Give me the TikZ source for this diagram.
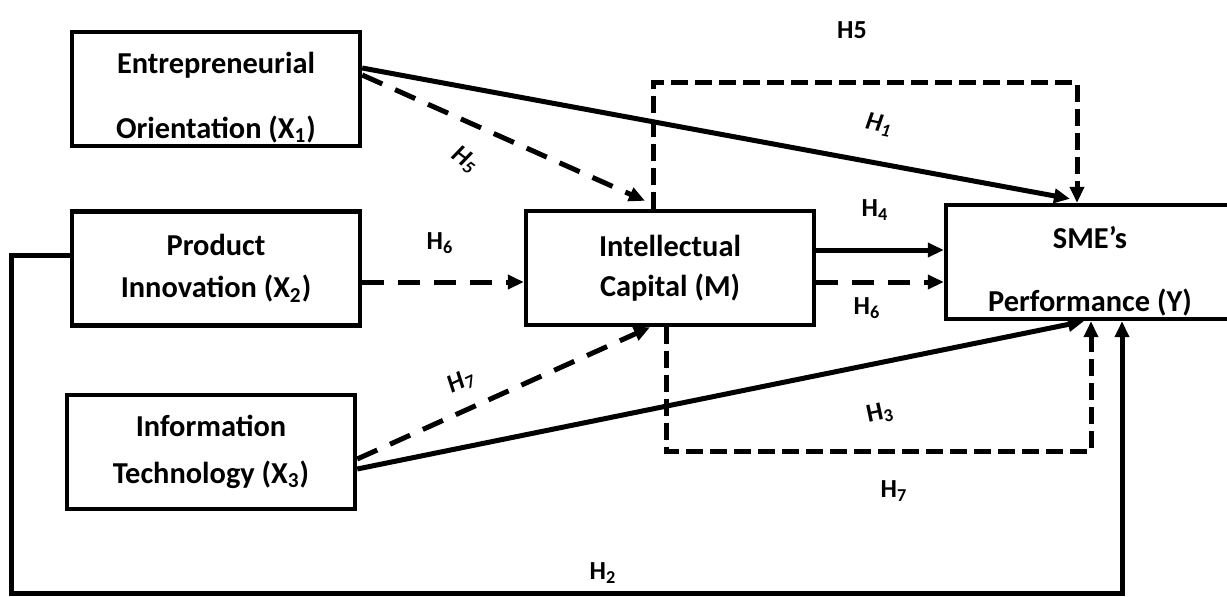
\documentclass[tikz,border=0pt]{standalone}
\usepackage{fontspec}
\setmainfont{Carlito}
\usetikzlibrary{shapes,arrows.meta}

\begin{document}
\begin{tikzpicture}[x=0.5pt,y=0.5pt,
	box/.style={draw=black,line width=2.2pt,rectangle,inner ysep=0pt,minimum width=144pt,minimum height=57pt,align=center,font=\fontsize{15.2}{20}\selectfont\bfseries},
	hyp/.style={font=\fontsize{13}{15}\selectfont\bfseries},
	hypit/.style={font=\fontsize{13}{15}\selectfont\bfseries\itshape},
	solidarrow/.style={line width=2.5pt,-{Triangle[length=8pt,width=7pt]}},
	dasharrow/.style={line width=2.5pt,dash pattern=on 11pt off 7pt,-{Triangle[length=8pt,width=7pt]}},
	loopline/.style={line width=2.5pt,dash pattern=on 8.5pt off 3.5pt,-{Triangle[length=8pt,width=7pt]}}]
	\clip (0,0) rectangle (1227,-596);

	%variables
	\node[box] (Xone) at (216,-89) {\rule{0pt}{19pt}Entrepreneurial\\[12.5pt]Orientation (X\textsubscript{1})};
	\node[box] (Xtwo) at (216,-268.5) {Product\\[1pt]Innovation (X\textsubscript{2})};
	\node[box] (Xthree) at (211,-452) {Information\\[3.5pt]Technology (X\textsubscript{3})};
	\node[box] (M) at (670,-268) {Intellectual\\[0pt]Capital (M)};
	\node[box] (Y) at (1090,-262) {\rule{0pt}{20pt}SME’s\\[11.5pt]Performance (Y)};

	%direct paths
	\draw[solidarrow] ([yshift=10.5pt]Xone.east) -- ([xshift=-10pt,yshift=2pt]Y.north);
	\draw[solidarrow] ([yshift=9pt]M.east) -- ([yshift=9pt]M.east -| Y.west);
	\draw[solidarrow] ([yshift=-8.5pt]Xthree.east) -- ([xshift=-3pt]Y.south);
	\draw[solidarrow] ([yshift=6.75pt]Xtwo.west) -- ++(-58,0) -- ++(0,-338) -| ([xshift=16pt]Y.south);

	%mediated paths
	\draw[dasharrow] ([yshift=7pt]Xone.east) -- ([xshift=-12.5pt,yshift=4pt]M.north);
	\draw[dasharrow] ([yshift=-6.75pt]Xtwo.east) -- ([yshift=-6.75pt]Xtwo.east -| M.west);
	\draw[dasharrow] ([yshift=-3.5pt]Xthree.east) -- ([xshift=-10pt]M.south);
	\draw[dasharrow] ([yshift=-7pt]M.east) -- ([yshift=-7pt]M.east -| Y.west);
	\draw[loopline] ([xshift=-8.5pt]M.north) -- ++(0,126) -| ([xshift=-6.5pt]Y.north);
	\draw[loopline] ([xshift=-2pt]M.south) -- ++(0,-124) -| ([xshift=0.5pt]Y.south);

	%hypothesis labels
	\node[hyp] (hypFiveTop) at (852,-30) {H5};
	\node[hypit,rotate=-12] (hypOne) at (879,-125) {H\textsubscript{1}};
	\node[hypit,rotate=-37] (hypFive) at (465,-160) {H\textsubscript{5}};
	\node[hyp] (hypSixLeft) at (440,-243) {H\textsubscript{6}};
	\node[hyp] (hypFour) at (875,-210) {H\textsubscript{4}};
	\node[hyp] (hypSixRight) at (867,-308) {H\textsubscript{6}};
	\node[hypit,rotate=25] (hypSeven) at (461,-382) {H\textsubscript{7}};
	\node[hyp,rotate=12] (hypThree) at (880,-413) {H\textsubscript{3}};
	\node[hyp] (hypSevenLow) at (894,-491) {H\textsubscript{7}};
	\node[hyp] (hypTwo) at (603,-573) {H\textsubscript{2}};

\end{tikzpicture}
\end{document}
